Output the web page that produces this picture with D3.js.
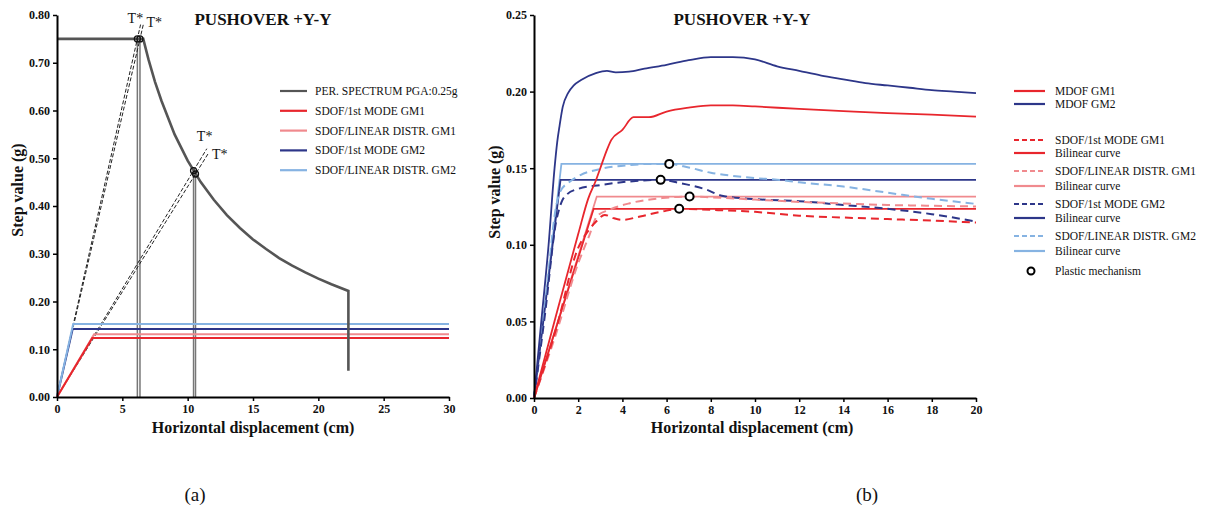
<!DOCTYPE html>
<html>
<head>
<meta charset="utf-8">
<script src="https://cdn.jsdelivr.net/npm/d3@7"></script>
<style>
body { margin: 0; background: #fff; }
text { font-family: "Liberation Serif", "Times New Roman", serif; fill: #111; }
</style>
</head>
<body>
<svg id="chart"></svg>
<script>
//chart size
const width = 1210;
const height = 517;

//--- data, panel (a) ---
//elastic perfectly-plastic spectrum in ADRS (displacement cm, Sa g)
const spectrumX = [0, 6.6, 7, 7.5, 8, 9, 10, 11, 12, 13, 14, 15, 16, 17, 18, 19, 20, 21, 22.3, 22.3];
const spectrumY = [0.75, 0.75, 0.707, 0.66, 0.62, 0.55, 0.495, 0.45, 0.413, 0.381, 0.354, 0.33, 0.31, 0.291, 0.275, 0.261, 0.248, 0.236, 0.222, 0.055];
//target period points on the spectrum
const tStarX = [6.15, 6.35, 10.45, 10.6];
const tStarY = [0.75, 0.75, 0.474, 0.467];
const tStarTop = [0.78, 0.78, 0.52, 0.51];
const tLabelX = [6.0, 7.45, 11.3, 12.45];
const tLabelY = [0.783, 0.775, 0.537, 0.499];

//bilinear curves (same idealisation in both panels): knee displacement, yield value
const bilinearNames = ['SDOF/1st MODE GM1', 'SDOF/LINEAR DISTR. GM1', 'SDOF/1st MODE GM2', 'SDOF/LINEAR DISTR. GM2'];
const kneeX = [2.7, 2.84, 1.2, 1.24];
const kneeY = [0.1235, 0.1315, 0.1424, 0.1528];

//--- data, panel (b) ---
const mdofGM1 = [[0, 0], [1, 0.054], [2, 0.107], [2.45, 0.13], [2.8, 0.142], [3, 0.15], [3.3, 0.162], [3.5, 0.1685], [4, 0.175], [4.5, 0.1833], [5.2, 0.1833], [6, 0.187], [7, 0.1895], [8, 0.191], [9, 0.191], [10, 0.1903], [12, 0.1887], [14, 0.1873], [16, 0.186], [18, 0.185], [20, 0.1837]];
const mdofGM2 = [[0, 0], [0.33, 0.05], [0.66, 0.1], [0.93, 0.15], [1.05, 0.167], [1.16, 0.178], [1.3, 0.19], [1.54, 0.199], [1.8, 0.204], [2.13, 0.2075], [2.8, 0.212], [3.3, 0.2135], [3.7, 0.2125], [4.3, 0.213], [5, 0.215], [6, 0.2175], [7, 0.2205], [8, 0.2225], [9, 0.2225], [10, 0.221], [11, 0.2165], [12, 0.2135], [13, 0.2105], [14, 0.208], [15, 0.2055], [16, 0.204], [17, 0.2025], [18, 0.201], [19, 0.2], [20, 0.199]];
const sdofModeGM1 = [[0, 0], [1, 0.045], [2, 0.098], [2.5, 0.11], [2.8, 0.115], [3.2, 0.1195], [3.6, 0.1174], [4, 0.1163], [4.8, 0.1185], [5.8, 0.1217], [6.6, 0.1235], [8, 0.1228], [10, 0.1215], [12, 0.119], [14, 0.1178], [16, 0.1168], [18, 0.1158], [20, 0.1145]];
const sdofLinGM1 = [[0, 0], [1, 0.042], [2, 0.088], [2.5, 0.106], [2.84, 0.1185], [3.4, 0.1228], [4.3, 0.127], [5.8, 0.1305], [7, 0.1315], [8, 0.131], [10, 0.1295], [12, 0.128], [14, 0.127], [16, 0.126], [18, 0.1255], [20, 0.125]];
const sdofModeGM2 = [[0, 0], [0.5, 0.055], [1, 0.115], [1.25, 0.128], [1.5, 0.133], [2, 0.1365], [3, 0.139], [4.3, 0.1413], [5.7, 0.1424], [6.6, 0.1403], [7.8, 0.136], [8.5, 0.132], [10, 0.1298], [12, 0.1285], [14, 0.126], [16, 0.1235], [18, 0.12], [20, 0.1152]];
const sdofLinGM2 = [[0, 0], [0.5, 0.06], [1, 0.125], [1.2, 0.135], [1.6, 0.141], [2.1, 0.1455], [3, 0.1495], [4.3, 0.152], [5.3, 0.1528], [6.1, 0.1528], [7, 0.1505], [8, 0.147], [9, 0.145], [10, 0.1435], [11, 0.1425], [12, 0.1408], [14, 0.138], [16, 0.134], [18, 0.13], [20, 0.1267]];
//plastic mechanism points (x, y)
const plasticX = [6.57, 7.04, 5.73, 6.12];
const plasticY = [0.1235, 0.1315, 0.1424, 0.1528];

//colors
const grey = '#555555';
const red = '#e8262d';
const pink = '#f08a8e';
const navy = '#2d3689';
const lblue = '#86b3e2';
const seriesColors = [red, pink, navy, lblue];

const svg = d3.select('svg#chart').attr('width', width).attr('height', height);

//helper: style an axis group
function styleAxis(g) {
    g.select('.domain').attr('stroke', '#000').attr('stroke-width', 2);
    g.selectAll('.tick line').attr('stroke', '#000').attr('stroke-width', 1.5);
    g.selectAll('.tick text')
        .attr('font-family', '"Liberation Serif", serif')
        .attr('font-weight', 'bold')
        .attr('font-size', 12)
        .attr('fill', '#111');
}

function axisTitles(xCenter, yBottom, yTitleX, yTitleY) {
    svg.append('text')
        .attr('x', xCenter).attr('y', yBottom)
        .attr('text-anchor', 'middle')
        .attr('font-weight', 'bold').attr('font-size', 16)
        .text('Horizontal displacement (cm)');
    svg.append('text')
        .attr('transform', `translate(${yTitleX},${yTitleY}) rotate(-90)`)
        .attr('text-anchor', 'middle')
        .attr('font-weight', 'bold').attr('font-size', 16)
        .text('Step value (g)');
}

//++++++++++++++++++
//--PANEL (a)--
//++++++++++++++++++
const xA = d3.scaleLinear().domain([0, 30]).range([57, 449]);
const yA = d3.scaleLinear().domain([0, 0.8]).range([397, 15]);
const lineA = d3.line().x(d => xA(d[0])).y(d => yA(d[1]));

//vertical T* lines
svg.append('g').selectAll('line')
    .data(tStarX)
    .enter().append('line')
    .attr('x1', d => xA(d)).attr('x2', d => xA(d))
    .attr('y1', yA(0)).attr('y2', (d, i) => yA(tStarY[i]))
    .attr('stroke', '#777').attr('stroke-width', 1.5);

//dashed elastic lines through the origin
svg.append('g').selectAll('line')
    .data(tStarX)
    .enter().append('line')
    .attr('x1', xA(0)).attr('y1', yA(0))
    .attr('x2', (d, i) => xA(d * tStarTop[i] / tStarY[i]))
    .attr('y2', (d, i) => yA(tStarTop[i]))
    .attr('stroke', '#222').attr('stroke-width', 1)
    .attr('stroke-dasharray', '4 2');

//bilinear curves (left panel extends to 30 cm)
[2, 3, 1, 0].forEach(i => {
    svg.append('path')
        .datum([[0, 0], [kneeX[i], kneeY[i]], [30, kneeY[i]]])
        .attr('d', lineA)
        .attr('fill', 'none')
        .attr('stroke', seriesColors[i])
        .attr('stroke-width', 2);
});

//spectrum
svg.append('path')
    .datum(spectrumX.map((x, i) => [x, spectrumY[i]]))
    .attr('d', lineA)
    .attr('fill', 'none')
    .attr('stroke', grey)
    .attr('stroke-width', 2.6);

//small circles at T*
svg.append('g').selectAll('circle')
    .data(tStarX)
    .enter().append('circle')
    .attr('cx', d => xA(d)).attr('cy', (d, i) => yA(tStarY[i]))
    .attr('r', 3).attr('fill', 'none')
    .attr('stroke', '#111').attr('stroke-width', 1.3);

svg.append('g').selectAll('text')
    .data(tLabelX)
    .enter().append('text')
    .attr('x', d => xA(d)).attr('y', (d, i) => yA(tLabelY[i]))
    .attr('text-anchor', 'middle').attr('font-size', 14)
    .attr('fill', '#111')
    .text('T*');

svg.append('g').attr('transform', `translate(0,${yA(0)})`)
    .call(d3.axisBottom(xA).tickValues(d3.range(0, 31, 5)).tickSize(4).tickSizeOuter(0))
    .call(styleAxis);
svg.append('g').attr('transform', `translate(${xA(0)},0)`)
    .call(d3.axisLeft(yA).tickValues(d3.range(0, 0.81, 0.1)).tickFormat(d3.format('.2f')).tickSize(4).tickSizeOuter(0))
    .call(styleAxis);

axisTitles(253, 433, 23, 190);

svg.append('text')
    .attr('x', 263).attr('y', 25)
    .attr('text-anchor', 'middle')
    .attr('font-weight', 'bold').attr('font-size', 17)
    .text('PUSHOVER +Y-Y');

//legend (a)
const legendA = [
    { name: 'PER. SPECTRUM PGA:0.25g', color: grey },
    { name: 'SDOF/1st MODE GM1', color: red },
    { name: 'SDOF/LINEAR DISTR. GM1', color: pink },
    { name: 'SDOF/1st MODE GM2', color: navy },
    { name: 'SDOF/LINEAR DISTR. GM2', color: lblue },
];
const legA = svg.append('g').selectAll('g')
    .data(legendA)
    .enter().append('g')
    .attr('transform', (d, i) => `translate(280,${91 + i * 19.8})`);
legA.append('line')
    .attr('x1', 0).attr('x2', 27)
    .attr('stroke', d => d.color).attr('stroke-width', 2.2);
legA.append('text')
    .attr('x', 35).attr('y', 4)
    .attr('font-size', 11.5).attr('fill', '#222')
    .text(d => d.name);

//++++++++++++++++++
//--PANEL (b)--
//++++++++++++++++++
const xB = d3.scaleLinear().domain([0, 20]).range([534, 976]);
const yB = d3.scaleLinear().domain([0, 0.25]).range([398, 15]);
const lineB = d3.line().x(d => xB(d[0])).y(d => yB(d[1]));
const curveB = d3.line().x(d => xB(d[0])).y(d => yB(d[1])).curve(d3.curveMonotoneX);

//bilinear curves
[3, 2, 1, 0].forEach(i => {
    svg.append('path')
        .datum([[0, 0], [kneeX[i], kneeY[i]], [20, kneeY[i]]])
        .attr('d', lineB)
        .attr('fill', 'none')
        .attr('stroke', seriesColors[i])
        .attr('stroke-width', 1.8);
});

//SDOF curves (dashed)
[sdofLinGM2, sdofModeGM2, sdofLinGM1, sdofModeGM1].forEach((s, k) => {
    svg.append('path')
        .datum(s)
        .attr('d', curveB)
        .attr('fill', 'none')
        .attr('stroke', [lblue, navy, pink, red][k])
        .attr('stroke-width', 2)
        .attr('stroke-dasharray', '8 5');
});

//MDOF curves
svg.append('path').datum(mdofGM2).attr('d', curveB)
    .attr('fill', 'none').attr('stroke', navy).attr('stroke-width', 1.8);
svg.append('path').datum(mdofGM1).attr('d', curveB)
    .attr('fill', 'none').attr('stroke', red).attr('stroke-width', 1.8);

//plastic mechanism
svg.append('g').selectAll('circle')
    .data(plasticX)
    .enter().append('circle')
    .attr('cx', d => xB(d)).attr('cy', (d, i) => yB(plasticY[i]))
    .attr('r', 4).attr('fill', '#fff')
    .attr('stroke', '#000').attr('stroke-width', 2);

svg.append('g').attr('transform', `translate(0,${yB(0)})`)
    .call(d3.axisBottom(xB).tickValues(d3.range(0, 21, 2)).tickSize(4).tickSizeOuter(0))
    .call(styleAxis);
svg.append('g').attr('transform', `translate(${xB(0)},0)`)
    .call(d3.axisLeft(yB).tickValues(d3.range(0, 0.251, 0.05)).tickFormat(d3.format('.2f')).tickSize(4).tickSizeOuter(0))
    .call(styleAxis);

axisTitles(752, 433, 500, 192);

svg.append('text')
    .attr('x', 742).attr('y', 25)
    .attr('text-anchor', 'middle')
    .attr('font-weight', 'bold').attr('font-size', 17)
    .text('PUSHOVER +Y-Y');

//legend (b)
const legendB = [
    { name: 'MDOF GM1', color: red, dash: null, y: 91 },
    { name: 'MDOF GM2', color: navy, dash: null, y: 104 },
    { name: 'SDOF/1st MODE GM1', color: red, dash: '5 3', y: 140 },
    { name: 'Bilinear curve', color: red, dash: null, y: 153 },
    { name: 'SDOF/LINEAR DISTR. GM1', color: pink, dash: '5 3', y: 171 },
    { name: 'Bilinear curve', color: pink, dash: null, y: 186 },
    { name: 'SDOF/1st MODE GM2', color: navy, dash: '5 3', y: 204 },
    { name: 'Bilinear curve', color: navy, dash: null, y: 218 },
    { name: 'SDOF/LINEAR DISTR. GM2', color: lblue, dash: '5 3', y: 236 },
    { name: 'Bilinear curve', color: lblue, dash: null, y: 251 },
];
const legB = svg.append('g').selectAll('g')
    .data(legendB)
    .enter().append('g')
    .attr('transform', d => `translate(1014,${d.y})`);
legB.append('line')
    .attr('x1', 0).attr('x2', 31)
    .attr('stroke', d => d.color).attr('stroke-width', 2.2)
    .attr('stroke-dasharray', d => d.dash);
legB.append('text')
    .attr('x', 41).attr('y', 4)
    .attr('font-size', 11.5).attr('fill', '#222')
    .text(d => d.name);
svg.append('circle')
    .attr('cx', 1031).attr('cy', 271).attr('r', 3.5)
    .attr('fill', '#fff').attr('stroke', '#000').attr('stroke-width', 2);
svg.append('text')
    .attr('x', 1055).attr('y', 275)
    .attr('font-size', 11.5).attr('fill', '#222')
    .text('Plastic mechanism');

//panel letters
svg.append('text').attr('x', 195).attr('y', 501).attr('text-anchor', 'middle').attr('font-size', 19).text('(a)');
svg.append('text').attr('x', 867).attr('y', 501).attr('text-anchor', 'middle').attr('font-size', 19).text('(b)');
</script>
</body>
</html>
